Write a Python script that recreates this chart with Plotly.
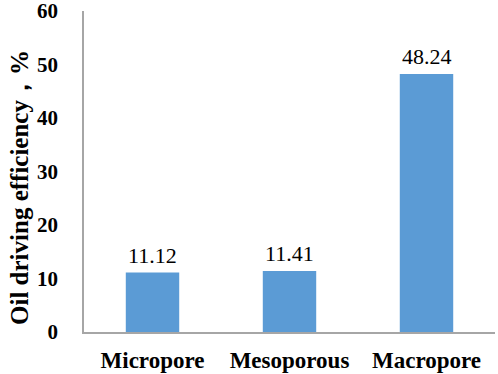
import plotly.graph_objects as go

categories = ["Micropore", "Mesoporous", "Macropore"]
values = [11.12, 11.41, 48.24]
value_labels = ["11.12", "11.41", "48.24"]
y_ticks = [0, 10, 20, 30, 40, 50, 60]
y_title = "Oil driving efficiency，%"

SERIF = "Liberation Serif"
BAR_COLOR = "#5B9BD5"
AXIS_COLOR = "#A6A6A6"

W, H = 498, 374
L, R, T, B = 84, 3, 11, 42

fig = go.Figure()
fig.add_trace(go.Bar(
    x=categories,
    y=values,
    marker=dict(color=BAR_COLOR, line=dict(width=0)),
    hoverinfo="skip",
))

for c, v, t in zip(categories, values, value_labels):
    fig.add_annotation(
        x=c, y=v, text=t, showarrow=False,
        yanchor="bottom", yshift=3,
        font=dict(family=SERIF, size=22, color="#000000"),
    )

# y-axis title as a rotated annotation (sits slightly below plot centre in the reference)
plot_w, plot_h = W - L - R, H - T - B
fig.add_annotation(
    xref="paper", yref="paper",
    x=(20 - L) / plot_w, y=(H - B - 188) / plot_h,
    text=y_title, textangle=-90, showarrow=False,
    xanchor="center", yanchor="middle",
    font=dict(family=SERIF, size=25, color="#000000", weight="bold"),
)

fig.update_layout(
    width=W, height=H,
    margin=dict(l=L, r=R, t=T, b=B),
    paper_bgcolor="white",
    plot_bgcolor="white",
    showlegend=False,
    bargap=0.61,
    font=dict(family=SERIF),
    xaxis=dict(
        automargin=False,
        showline=True, linecolor=AXIS_COLOR, linewidth=1.5,
        showgrid=False, ticks="",
        tickfont=dict(family=SERIF, size=23, color="#000000", weight="bold"),
        ticklabelstandoff=7,
    ),
    yaxis=dict(
        automargin=False,
        range=[0, 60],
        tickmode="array",
        tickvals=y_ticks,
        ticklabeloverflow="allow",
        showline=True, linecolor=AXIS_COLOR, linewidth=1.5,
        showgrid=False, zeroline=False, ticks="",
        tickfont=dict(family=SERIF, size=21, color="#000000", weight="bold"),
        ticklabelstandoff=20,
    ),
)

fig.write_html(
    "out.html",
    config={"displayModeBar": False},
    post_script="document.body.style.margin='0';",
)
